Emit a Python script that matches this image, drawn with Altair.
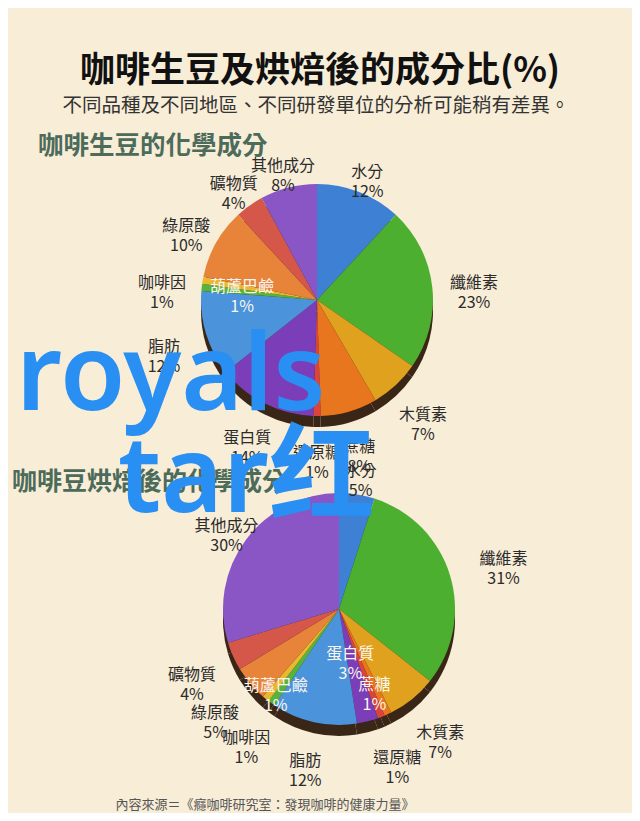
import altair as alt
import pandas as pd

# ---------------- data ----------------
names = ["水分", "纖維素", "木質素", "蔗糖", "還原糖", "蛋白質",
         "脂肪", "咖啡因", "葫蘆巴鹼", "綠原酸", "礦物質", "其他成分"]
green_bean = [12, 23, 7, 8, 1, 14, 12, 1, 1, 10, 4, 8]
roasted_bean = [5, 31, 7, 1, 1, 3, 12, 1, 1, 5, 4, 30]

title_main = "咖啡生豆及烘焙後的成分比(%)"
subtitle = "不同品種及不同地區、不同研發單位的分析可能稍有差異。"
section1 = "咖啡生豆的化學成分"
section2 = "咖啡豆烘焙後的化學成分"
source = "內容來源＝《癮咖啡研究室：發現咖啡的健康力量》"
watermark = ["royals", "tar红"]

# ---------------- styles ----------------
colors = ["#3d80d4", "#4caf30", "#e0a21e", "#e8761e", "#d9453a", "#7b3db8",
          "#4b93db", "#57b43a", "#e8b830", "#e8843a", "#d4574a", "#8a55c4"]
BG = "#f8edd7"
CJK = "Noto Sans CJK TC"
PIE_R = 116
# label distance from pie centre, per slice (style only)
radii1 = [138, 158, 156, 153, 153, 155, 160, 156, 76, 150, 143, 138]
radii2 = [140, 172, 160, 84, 160, 46, 156, 159, 100, 162, 161, 140]
inside1 = {"葫蘆巴鹼"}
inside2 = {"葫蘆巴鹼", "蛋白質", "蔗糖"}
W, H = 624, 805


def pie(vals, cx, cy, radii, inside):
    df = pd.DataFrame({
        "idx": list(range(len(names))),
        "name": names,
        "v": vals,
        "lr": radii,
        "white": [1 if n in inside else 0 for n in names],
    })
    df["label"] = df["name"] + "\n" + df["v"].astype(str) + "%"
    base = alt.Chart(df).encode(
        theta=alt.Theta("v:Q", stack=True),
        order=alt.Order("idx:Q"),
    )
    shadow = base.mark_arc(outerRadius=PIE_R, color="#3a2616").encode(
        x=alt.value(cx), y=alt.value(cy + 11)
    )
    arcs = base.mark_arc(outerRadius=PIE_R).encode(
        x=alt.value(cx), y=alt.value(cy),
        color=alt.Color("name:N", scale=alt.Scale(domain=names, range=colors), legend=None),
    )
    labels = alt.Chart(df).transform_joinaggregate(
        total="sum(v)"
    ).transform_window(
        cum="sum(v)", sort=[alt.SortField("idx")], frame=[None, 0]
    ).transform_calculate(
        ang="2*PI*(datum.cum - datum.v/2)/datum.total"
    ).transform_calculate(
        px=f"{cx} + datum.lr*sin(datum.ang)",
        py=f"{cy} - datum.lr*cos(datum.ang)",
    ).mark_text(
        font=CJK, fontSize=16, lineBreak="\n", lineHeight=20,
        align="center", baseline="middle",
    ).encode(
        x=alt.X("px:Q", scale=None),
        y=alt.Y("py:Q", scale=None),
        text="label:N",
        color=alt.condition(alt.datum.white == 1, alt.value("#fbf6f0"), alt.value("#2b2b2b")),
    )
    return [shadow, arcs, labels]


def txt(t, x, y, size, color, weight="normal", align="left", font=CJK, baseline="middle"):
    return alt.Chart(pd.DataFrame({"t": [t]})).mark_text(
        font=font, fontSize=size, fontWeight=weight, color=color,
        align=align, baseline=baseline,
    ).encode(text="t:N", x=alt.value(x), y=alt.value(y))


layers = []
layers.append(txt(title_main, 312, 63, 35, "#111111", "bold", "center"))
layers.append(txt(subtitle, 308, 98, 19.5, "#333333", "normal", "center"))
layers.append(txt(section1, 30, 138, 25.5, "#4c6b5a", "bold"))
layers += pie(green_bean, 309, 292, radii1, inside1)
layers.append(txt(section2, 4, 474, 25, "#4c6b5a", "bold"))
layers += pie(roasted_bean, 331, 601, radii2, inside2)
layers.append(txt(source, 257, 797, 13, "#555555", "normal", "center"))
layers.append(txt(watermark[0], 8, 402, 106, "#2a8ff2", 600, "left",
                  "Noto Sans, Noto Sans CJK SC", "alphabetic"))
layers.append(txt(watermark[1], 110, 504, 106, "#2a8ff2", 600, "left",
                  "Noto Sans, Noto Sans CJK SC", "alphabetic"))

chart = alt.layer(*layers).properties(
    width=W, height=H, background=BG, padding=0,
    autosize=alt.AutoSizeParams(type="none"),
).configure_view(stroke=None)

chart.save("out.html", embed_options={"renderer": "svg", "actions": False})
